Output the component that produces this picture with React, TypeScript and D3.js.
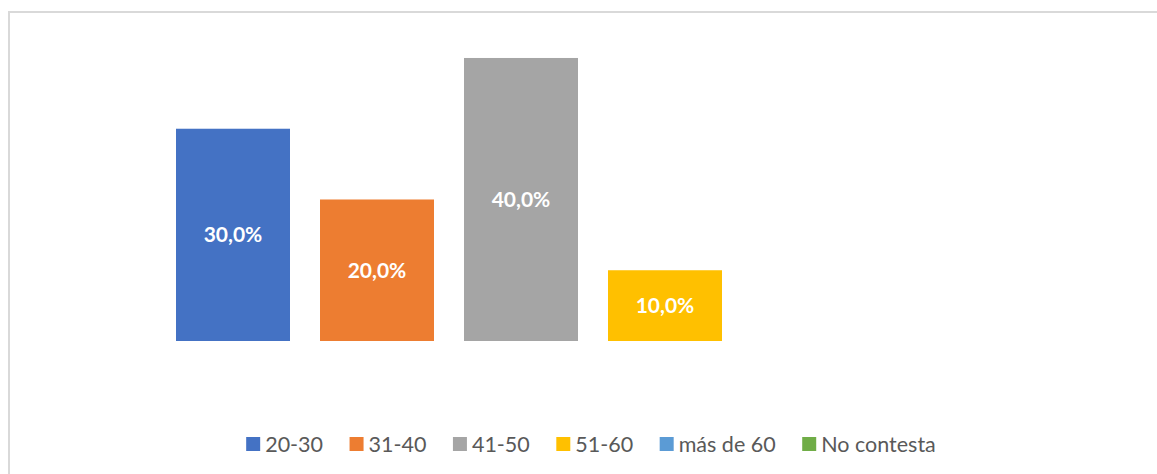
import React, { useEffect, useRef } from "react";
import * as d3 from "d3";

const series = ["20-30", "31-40", "41-50", "51-60", "más de 60", "No contesta"];
const values = [0.3, 0.2, 0.4, 0.1, 0, 0];
const colors = ["#4472C4", "#ED7D31", "#A5A5A5", "#FFC000", "#5B9BD5", "#70AD47"];

const W = 1157;
const H = 474;
const FONT = "Lato, 'Open Sans', sans-serif";

export default function App() {
  const ref = useRef<SVGSVGElement>(null);

  useEffect(() => {
    const svg = d3.select(ref.current);
    svg.selectAll("*").remove();

    // chart border (extends past the visible frame on right/bottom)
    svg.append("rect")
      .attr("x", 9).attr("y", 12)
      .attr("width", 1170).attr("height", 480)
      .attr("fill", "#ffffff")
      .attr("stroke", "#d9d9d9").attr("stroke-width", 2);

    const x = d3.scaleBand<string>()
      .domain(series)
      .range([32, 1154])
      .paddingInner(30 / 144)
      .paddingOuter(1);

    const y = d3.scaleLinear().domain([0, 0.45]).range([341, 22.6]);

    const fmt = (v: number) => (v * 100).toFixed(1).replace(".", ",") + "%";

    svg.append("g").selectAll("rect")
      .data(series)
      .join("rect")
      .attr("x", (d) => x(d)!)
      .attr("y", (_, i) => y(values[i]))
      .attr("width", x.bandwidth())
      .attr("height", (_, i) => y(0) - y(values[i]))
      .attr("fill", (_, i) => colors[i]);

    svg.append("g").selectAll("text")
      .data(series.filter((_, i) => values[i] > 0))
      .join("text")
      .attr("x", (d) => x(d)! + x.bandwidth() / 2)
      .attr("y", (d) => {
        const v = values[series.indexOf(d)];
        return (y(v) + y(0)) / 2 + 7.5;
      })
      .attr("text-anchor", "middle")
      .attr("fill", "#ffffff")
      .attr("font-family", FONT)
      .attr("font-weight", "bold")
      .attr("font-size", 21)
      .text((d) => fmt(values[series.indexOf(d)]));

    // legend
    const legend = svg.append("g");
    const items = legend.selectAll("g")
      .data(series)
      .join("g");
    items.append("rect")
      .attr("x", 0).attr("y", 437)
      .attr("width", 14).attr("height", 14)
      .attr("fill", (_, i) => colors[i]);
    items.append("text")
      .attr("x", 19).attr("y", 451.5)
      .attr("fill", "#595959")
      .attr("font-family", FONT)
      .attr("font-size", 21.5)
      .text((d) => d);

    const widths: number[] = [];
    items.each(function () {
      const t = d3.select(this).select("text").node() as SVGTextElement;
      widths.push(19 + t.getComputedTextLength());
    });
    const gap = 26.5;
    const total = d3.sum(widths) + gap * (widths.length - 1);
    let cx = 591 - total / 2;
    items.attr("transform", (_, i) => {
      const tx = cx;
      cx += widths[i] + gap;
      return `translate(${tx},0)`;
    });
  }, []);

  return (
    <svg
      ref={ref}
      width={W}
      height={H}
      style={{ position: "absolute", left: 0, top: 0, background: "#ffffff" }}
    />
  );
}
